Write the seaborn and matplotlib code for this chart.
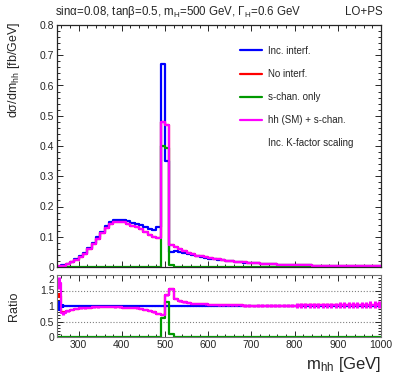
import numpy as np
import pandas as pd
import seaborn as sns
import matplotlib.pyplot as plt
from matplotlib.lines import Line2D
from matplotlib.ticker import MultipleLocator

# binning: 10 GeV bins from 250 to 1000 GeV
edges = np.arange(250, 1001, 10)
centers = edges[:-1] + 5

# d sigma / d m_hh [fb/GeV]
inc_interf = np.array([
    0.0015, 0.005, 0.011, 0.017, 0.026, 0.035, 0.046, 0.062, 0.080, 0.098,
    0.117, 0.134, 0.148, 0.155, 0.157, 0.156, 0.151, 0.146, 0.142, 0.138,
    0.132, 0.126, 0.122, 0.131, 0.670, 0.350, 0.048, 0.054, 0.0505, 0.0465,
    0.0427, 0.0389, 0.0355, 0.0330, 0.0305, 0.0278, 0.0260, 0.0242, 0.0223, 0.0204,
    0.0190, 0.0176, 0.0162, 0.0148, 0.0138, 0.0129, 0.0119, 0.0109, 0.0101, 0.0094,
    0.0087, 0.0081, 0.0075, 0.0070, 0.0066, 0.0062, 0.0058, 0.0054, 0.0051, 0.0048,
    0.0045, 0.0042, 0.0040, 0.0037, 0.0035, 0.0033, 0.0031, 0.0029, 0.0028, 0.0026,
    0.0025, 0.0023, 0.0022, 0.0021, 0.0020,
])

hh_plus_s = np.array([
    0.0026, 0.0039, 0.0092, 0.0150, 0.0237, 0.0326, 0.0432, 0.0589, 0.0764, 0.0941,
    0.1129, 0.1293, 0.1428, 0.1488, 0.1499, 0.1482, 0.1419, 0.1358, 0.1306, 0.1242,
    0.1148, 0.1058, 0.0976, 0.0969, 0.480, 0.470, 0.074, 0.066, 0.058, 0.052,
    0.047, 0.042, 0.038, 0.035, 0.032, 0.029, 0.027, 0.025, 0.023, 0.021,
    0.0195, 0.018, 0.0165, 0.015, 0.014, 0.0130, 0.0120, 0.0110, 0.0102, 0.0095,
    0.0088, 0.0082, 0.0076, 0.0071, 0.0067, 0.0063, 0.0059, 0.0055, 0.0052, 0.0049,
    0.0046, 0.0043, 0.0041, 0.0038, 0.0036, 0.0034, 0.0032, 0.0030, 0.0029, 0.0027,
    0.0026, 0.0024, 0.0023, 0.0022, 0.0021,
])

# "No interf." sits under the magenta curve except at threshold
no_interf = hh_plus_s.copy()
no_interf[:2] = [0.0020, 0.0040]

# s-channel only: only the resonance bins are non-zero
s_chan = np.zeros(len(centers))
s_chan[23:27] = [0.001, 0.400, 0.395, 0.005]

# statistical errors on the magenta ratio
hh_ratio_err = np.array([
    0.20, 0.06, 0.02, 0.02, 0.02, 0.02, 0.02, 0.02, 0.02, 0.02,
    0.01, 0.01, 0.01, 0.01, 0.01, 0.01, 0.01, 0.01, 0.01, 0.01,
    0.01, 0.01, 0.01, 0.01, 0.01, 0.01, 0.01, 0.01, 0.01, 0.01,
    0.01, 0.01, 0.01, 0.01, 0.01, 0.015, 0.017, 0.020, 0.022, 0.025,
    0.027, 0.030, 0.032, 0.035, 0.037, 0.040, 0.042, 0.045, 0.047, 0.050,
    0.052, 0.055, 0.057, 0.060, 0.062, 0.065, 0.067, 0.069, 0.071, 0.073,
    0.075, 0.077, 0.079, 0.081, 0.083, 0.085, 0.088, 0.090, 0.092, 0.095,
    0.097, 0.100, 0.103, 0.106, 0.110,
])
blue_ratio_err_head = [0.15, 0.05]

series = [
    ("Inc. interf.", inc_interf, "#0000ff"),
    ("No interf.", no_interf, "#ff0000"),
    ("s-chan. only", s_chan, "#009900"),
    ("hh (SM) + s-chan.", hh_plus_s, "#ff00ff"),
]

sns.set_style("ticks")
plt.rcParams['font.family'] = ['Liberation Sans', 'DejaVu Sans']
plt.rcParams['mathtext.fontset'] = 'custom'
plt.rcParams['mathtext.rm'] = 'Liberation Sans'
plt.rcParams['mathtext.it'] = 'Liberation Sans'

W, H = 399, 383
fig = plt.figure(figsize=(W / 100, H / 100), dpi=100)
ax = fig.add_axes([57 / W, 1 - 267 / H, (381 - 57) / W, (267 - 25) / H])
rax = fig.add_axes([57 / W, 1 - 337 / H, (381 - 57) / W, (337 - 275) / H])


def step_hist(a, vals, col):
    df = pd.DataFrame({"m": centers, "w": vals})
    sns.histplot(data=df, x="m", weights="w", bins=list(edges), element="step",
                 fill=False, color=col, linewidth=1.6, ax=a)


# main panel
for label, vals, col in series:
    step_hist(ax, vals, col)

ax.set_xlim(250, 1000)
ax.set_ylim(0, 0.8)
ax.set_xlabel("")
ax.set_ylabel("")
ax.set_yticks(np.arange(0, 0.81, 0.1))
ax.set_yticklabels(["0", "0.1", "0.2", "0.3", "0.4", "0.5", "0.6", "0.7", "0.8"])
ax.yaxis.set_minor_locator(MultipleLocator(0.02))
ax.xaxis.set_major_locator(MultipleLocator(100))
ax.xaxis.set_minor_locator(MultipleLocator(20))
ax.tick_params(labelbottom=False)

# ratio panel
ratios = [(vals / inc_interf, col) for _, vals, col in series]
for r, col in ratios:
    step_hist(rax, r, col)
rax.errorbar(centers[:2], np.ones(2), yerr=blue_ratio_err_head, fmt="none",
             ecolor="#0000ff", elinewidth=1.6)
rax.errorbar(centers[:2], ratios[1][0][:2], yerr=[0.08, 0.03], fmt="none",
             ecolor="#ff0000", elinewidth=1.6)
rax.errorbar(centers, ratios[3][0], yerr=hh_ratio_err, fmt="none",
             ecolor="#ff00ff", elinewidth=2.2)
for yv in [0.5, 1.0, 1.5]:
    rax.axhline(yv, color="0.5", linestyle=":", linewidth=0.8, zorder=0)

rax.set_xlim(250, 1000)
rax.set_ylim(0, 2)
rax.set_xlabel("")
rax.set_ylabel("")
rax.set_yticks([0, 0.5, 1, 1.5, 2])
rax.set_yticklabels(["0", "0.5", "1", "1.5", "2"])
rax.yaxis.set_minor_locator(MultipleLocator(0.1))
rax.xaxis.set_major_locator(MultipleLocator(100))
rax.xaxis.set_minor_locator(MultipleLocator(20))
for s in rax.spines.values():
    s.set_color("0.45")

for a in (ax, rax):
    a.tick_params(which="both", direction="in", top=True, right=True,
                  labelsize=7.5, width=0.7, pad=2)
    a.tick_params(which="major", length=4.5)
    a.tick_params(which="minor", length=2)
for s in ax.spines.values():
    s.set_linewidth(0.9)
# keep the main "0" just clear of the ratio "2"
ax.get_yticklabels()[0].set_verticalalignment("center_baseline")
rax.get_yticklabels()[-1].set_verticalalignment("top")

# legend
handles = [Line2D([], [], color=col, linewidth=1.6) for _, _, col in series]
fig.legend(handles, [lab for lab, _, _ in series], loc="upper left",
           bbox_to_anchor=(236 / W, 1 - 42 / H), frameon=False, fontsize=7,
           handlelength=2.3, handletextpad=0.6, labelspacing=1.35, borderaxespad=0)
fig.text(268 / W, 1 - 143 / H, "Inc. K-factor scaling", fontsize=7,
         ha="left", va="center")

# titles and labels
fig.text(55 / W, 1 - 12 / H,
         r"sin$\alpha$=0.08, tan$\beta$=0.5, m$_{\mathrm{H}}$=500 GeV, $\Gamma_{\mathrm{H}}$=0.6 GeV",
         fontsize=8.3, ha="left", va="center")
fig.text(383 / W, 1 - 12 / H, "LO+PS", fontsize=8.3, ha="right", va="center")
fig.text(14 / W, 1 - 22 / H, r"d$\sigma$/dm$_{\mathrm{hh}}$ [fb/GeV]", fontsize=9,
         rotation=90, ha="center", va="top")
fig.text(14 / W, 1 - 306 / H, "Ratio", fontsize=9, rotation=90,
         ha="center", va="center")
fig.text(381 / W, 1 - 365 / H, r"m$_{\mathrm{hh}}$ [GeV]", fontsize=12,
         ha="right", va="center")

fig.savefig("out.png", dpi=100)
